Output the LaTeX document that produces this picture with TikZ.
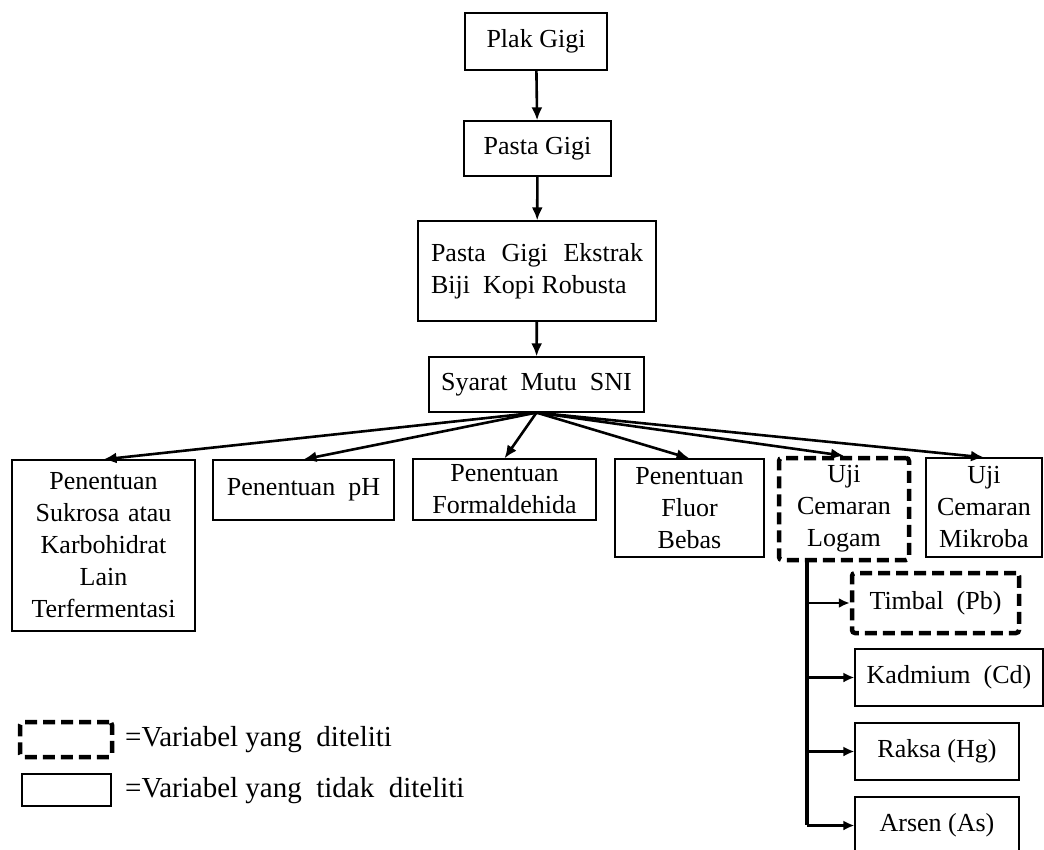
\documentclass[tikz,border=0pt]{standalone}
\usepackage{fontspec}
\setmainfont{Liberation Serif}
\usetikzlibrary{arrows.meta}
\tikzset{
 box/.style={draw, line width=1.2pt, inner sep=0pt, align=center, font=\fontsize{26}{32}\selectfont},
 dbox/.style={box, line width=4.5pt, dash pattern=on 12pt off 6pt, rounded corners=3pt},
 arr/.style={line width=2.6pt, -{Latex[length=13pt,width=11pt]}},
 sarr/.style={line width=2.2pt, -{Latex[length=11pt,width=10pt]}},
 legtext/.style={anchor=west, inner sep=0pt, font=\fontsize{29}{34}\selectfont},
}
\begin{document}
\begin{tikzpicture}[x=1pt,y=-1pt]
\clip (0,0) rectangle (1044,849);
\fill[white] (0,0) rectangle (1044,849);
% top chain
\node[box, minimum width=142, minimum height=57] (plak) at (536,41.5) {Plak Gigi};
\node[box, minimum width=147, minimum height=55] (pasta) at (537.5,148.5) {Pasta Gigi};
\node[box, minimum width=238, minimum height=100, align=left] (ekstrak) at (537,271) {\makebox[212pt][s]{Pasta Gigi Ekstrak}\\Biji\ \ Kopi Robusta};
\node[box, minimum width=215, minimum height=55] (syarat) at (536.5,384.5) {Syarat\ \ Mutu\ \ SNI};
% row
\node[box, minimum width=183, minimum height=171, text width=180] (sukrosa) at (103.5,545.5) {Penentuan\\Sukrosa atau\\Karbohidrat\\Lain\\Terfermentasi};
\node[box, minimum width=181, minimum height=60] (ph) at (303.5,490) {Penentuan\ \ pH};
\node[box, minimum width=183, minimum height=61, text width=180] (formal) at (504.5,489.5) {Penentuan\\Formaldehida};
\node[box, minimum width=149, minimum height=98, text width=146] (fluor) at (689.5,508) {Penentuan\\Fluor\\Bebas};
\node[dbox, minimum width=130, minimum height=102, text width=126] (logam) at (844,509) {Uji\\Cemaran\\Logam};
\node[box, minimum width=116, minimum height=99, text width=114] (mikroba) at (984,507.5) {Uji\\Cemaran\\Mikroba};
% metals
\node[dbox, minimum width=167, minimum height=60] (timbal) at (935.5,603) {Timbal\ \ (Pb)};
\node[box, minimum width=188, minimum height=57] (kadmium) at (949,677.5) {Kadmium\ \ (Cd)};
\node[box, minimum width=164, minimum height=57] (raksa) at (937,751.5) {Raksa (Hg)};
\node[box, minimum width=164, minimum height=57] (arsen) at (937,825.5) {Arsen (As)};
% legend
\node[dbox, minimum width=92, minimum height=35] (legd) at (66,739.5) {};
\node[legtext] (legdt) at (125,740) {=Variabel yang\ \ diteliti};
\node[box, minimum width=89, minimum height=32] (legp) at (66.5,790) {};
\node[legtext] (legpt) at (125,791) {=Variabel yang\ \ tidak\ \ diteliti};
% arrows
\draw[arr] (plak) -- (pasta);
\draw[arr] (pasta) -- (ekstrak);
\draw[arr] (ekstrak) -- (syarat);
\foreach \t in {sukrosa,ph,formal,fluor,logam,mikroba}
  \draw[arr] (syarat.south) -- (\t.north);
\coordinate (trunk) at (807,560);
\draw[line width=4pt] (trunk) -- ([yshift=1pt]trunk |- arsen.west);
\foreach \t in {timbal,kadmium,raksa,arsen}
  \draw[sarr] (trunk |- \t.west) -- (\t.west);
\end{tikzpicture}
\end{document}
